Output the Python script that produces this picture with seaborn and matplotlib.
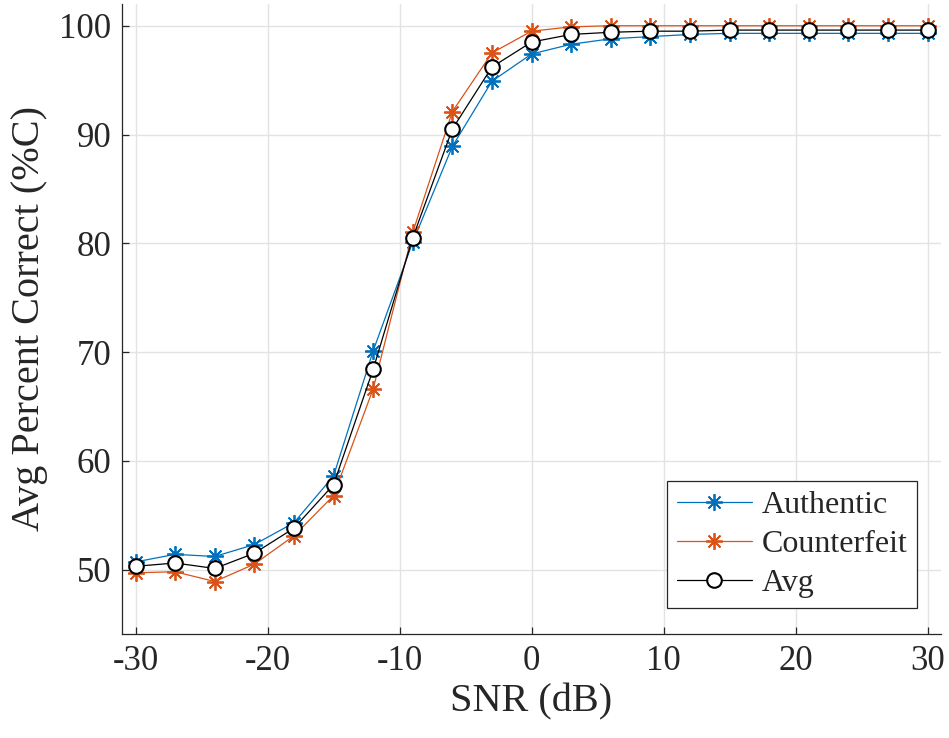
import numpy as np
import pandas as pd
import matplotlib
matplotlib.use("Agg")
import matplotlib.pyplot as plt
import seaborn as sns

snr = [-30, -27, -24, -21, -18, -15, -12, -9, -6, -3, 0, 3, 6, 9, 12, 15, 18, 21, 24, 27, 30]
authentic = [50.7, 51.4, 51.2, 52.3, 54.3, 58.6, 70.1, 80.1, 88.9, 94.9, 97.4, 98.3, 98.8, 99.0, 99.2, 99.3, 99.3, 99.3, 99.3, 99.3, 99.3]
counterfeit = [49.7, 49.8, 48.9, 50.5, 53.1, 56.8, 66.6, 81.0, 92.1, 97.5, 99.5, 99.9, 100.0, 100.0, 100.0, 100.0, 100.0, 100.0, 100.0, 100.0, 100.0]
avg = [50.3, 50.6, 50.1, 51.5, 53.8, 57.8, 68.4, 80.5, 90.5, 96.2, 98.5, 99.2, 99.4, 99.5, 99.5, 99.6, 99.6, 99.6, 99.6, 99.6, 99.6]
x_ticks = [-30, -20, -10, 0, 10, 20, 30]
y_ticks = [50, 60, 70, 80, 90, 100]

sns.set_style("ticks")
plt.rcParams['font.family'] = ['Liberation Serif', 'DejaVu Serif']
plt.rcParams['mathtext.fontset'] = 'stix'

fig = plt.figure(figsize=(9.49, 7.38), dpi=100)
ax = fig.add_axes([0.1289, 0.1413, 0.8624, 0.8533])

star = (8, 2, 0)
sns.lineplot(x=snr, y=authentic, ax=ax, color='#0072BD', lw=0.9, marker=star,
             markersize=12, markeredgewidth=1.3, markeredgecolor='#0072BD', label='Authentic')
sns.lineplot(x=snr, y=counterfeit, ax=ax, color='#D95319', lw=0.9, marker=star,
             markersize=12, markeredgewidth=1.3, markeredgecolor='#D95319', label='Counterfeit')
sns.lineplot(x=snr, y=avg, ax=ax, color='black', lw=0.9, marker='o',
             markersize=10.5, markerfacecolor='white', markeredgecolor='black',
             markeredgewidth=1.5, label='Avg')

ax.set_xlim(-31, 31)
ax.set_ylim(44.1, 102)
ax.set_xticks(x_ticks)
ax.set_xticklabels([str(v) for v in x_ticks])
ax.set_yticks(y_ticks)
ax.set_yticklabels([str(v) for v in y_ticks])
ax.grid(True, color='#e3e3e3', lw=1.0)
ax.set_axisbelow(True)
for s in ['top', 'right']:
    ax.spines[s].set_visible(False)
for s in ['left', 'bottom']:
    ax.spines[s].set_color('#262626')
    ax.spines[s].set_linewidth(0.9)
ax.tick_params(direction='in', length=5, width=0.9, color='#262626',
               labelsize=25, labelcolor='#262626', pad=8)
ax.set_xlabel('SNR (dB)', fontsize=29, color='#262626', labelpad=4)
ax.set_ylabel('Avg Percent Correct (%C)', fontsize=29, color='#262626', labelpad=8)

leg = ax.legend(loc='lower right', bbox_to_anchor=(0.971, 0.041), fontsize=23,
                frameon=True, fancybox=False, edgecolor='#262626', framealpha=1,
                handlelength=2.35, borderpad=0.3, labelspacing=0.3, handletextpad=0.3,
                borderaxespad=0)
leg.get_frame().set_linewidth(0.9)

fig.savefig('out.png', dpi=100)
